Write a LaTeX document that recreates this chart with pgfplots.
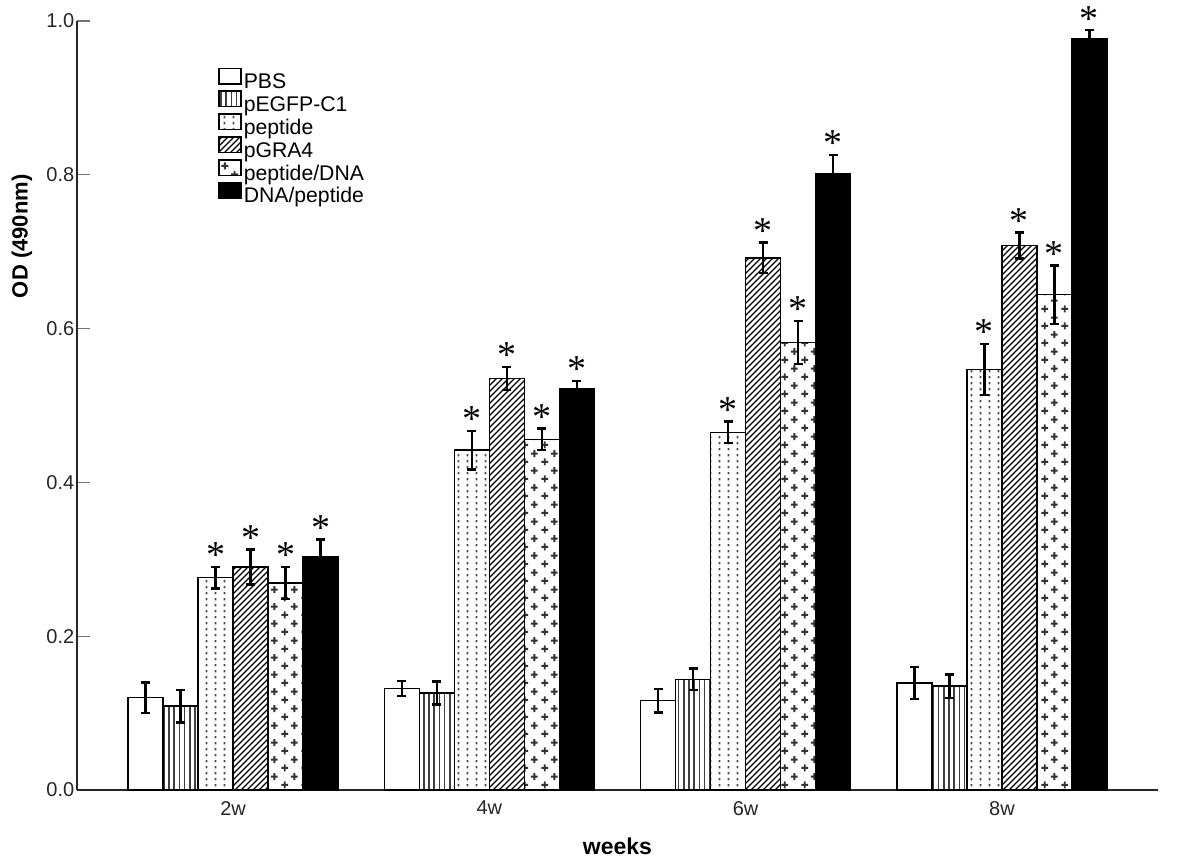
\documentclass[border=0pt]{standalone}
\usepackage{fontspec}
\setmainfont{Liberation Sans}
\newfontfamily\starfont{Liberation Serif}
\usepackage{pgfplots}
\pgfplotsset{compat=1.18}
\usepackage{pgfplotstable}
\usetikzlibrary{patterns}

\pgfdeclarepatternformonly{vlin}{\pgfqpoint{-1pt}{-1pt}}{\pgfqpoint{3.6pt}{3.6pt}}{\pgfqpoint{2.6pt}{2.6pt}}{%
 \pgfsetlinewidth{0.75pt}\pgfpathmoveto{\pgfqpoint{1.3pt}{-1pt}}\pgfpathlineto{\pgfqpoint{1.3pt}{3.6pt}}\pgfusepath{stroke}}
\pgfdeclarepatternformonly{dotcol}{\pgfqpoint{0pt}{0pt}}{\pgfqpoint{4.6pt}{2.9pt}}{\pgfqpoint{4.6pt}{2.9pt}}{%
 \pgfpathrectangle{\pgfqpoint{2pt}{0.8pt}}{\pgfqpoint{0.9pt}{1.2pt}}\pgfusepath{fill}}
\pgfdeclarepatternformonly{diag}{\pgfqpoint{-1pt}{-1pt}}{\pgfqpoint{4pt}{4pt}}{\pgfqpoint{3pt}{3pt}}{%
 \pgfsetlinewidth{0.65pt}\pgfpathmoveto{\pgfqpoint{0pt}{0pt}}\pgfpathlineto{\pgfqpoint{3.1pt}{3.1pt}}\pgfusepath{stroke}}
\pgfdeclarepatternformonly{plusp}{\pgfqpoint{0pt}{0pt}}{\pgfqpoint{10pt}{8.6pt}}{\pgfqpoint{10pt}{8.6pt}}{%
 \pgfsetlinewidth{1pt}%
 \pgfpathmoveto{\pgfqpoint{0.7pt}{2.15pt}}\pgfpathlineto{\pgfqpoint{4.3pt}{2.15pt}}%
 \pgfpathmoveto{\pgfqpoint{2.5pt}{0.35pt}}\pgfpathlineto{\pgfqpoint{2.5pt}{3.95pt}}%
 \pgfpathmoveto{\pgfqpoint{5.7pt}{6.45pt}}\pgfpathlineto{\pgfqpoint{9.3pt}{6.45pt}}%
 \pgfpathmoveto{\pgfqpoint{7.5pt}{4.65pt}}\pgfpathlineto{\pgfqpoint{7.5pt}{8.25pt}}%
 \pgfusepath{stroke}}

\pgfplotstableread{
x pbs pbse egfp egfpe pep pepe gra grae pd pde dp dpe
0 0.120 0.020 0.109 0.021 0.276 0.014 0.290 0.023 0.269 0.021 0.303 0.023
1 0.132 0.010 0.126 0.015 0.442 0.025 0.535 0.015 0.456 0.014 0.522 0.010
2 0.116 0.015 0.144 0.014 0.465 0.014 0.692 0.020 0.582 0.028 0.802 0.024
3 0.139 0.021 0.135 0.015 0.547 0.033 0.708 0.017 0.644 0.038 0.977 0.011
}\datatable

\pgfplotsset{starnodes/.style={
  visualization depends on={\thisrow{#1}\as\myerr},
  nodes near coords={\starfont\fontsize{19}{19}\selectfont *},
  every node near coord/.append style={shift={(axis direction cs:0,\myerr)}, anchor=south, inner sep=0pt, yshift=-0.8pt, text=black}}}

\begin{document}
\begin{tikzpicture}
\useasboundingbox (0,0) rectangle (600pt,428.5pt);
\begin{axis}[
  at={(38.5pt,33.5pt)}, anchor=south west,
  scale only axis, width=540.5pt, height=384.5pt,
  ybar=0pt, bar width=17.5pt,
  xmin=-0.609, xmax=3.609, ymin=0, ymax=1.0,
  axis x line*=bottom, axis y line*=left,
  axis line style={-, line width=1pt, black!85},
  xtick={0,1,2,3}, xticklabels={2w,4w,6w,8w},
  xtick style={draw=none}, xtick pos=bottom,
  ytick={0,0.2,0.4,0.6,0.8,1.0}, ytick pos=left,
  tick align=inside, major tick length=6.5pt,
  ytick style={draw=black!55, line width=0.6pt},
  /pgf/number format/assume math mode=true,
  yticklabel style={/pgf/number format/fixed, /pgf/number format/fixed zerofill, /pgf/number format/precision=1, inner sep=2pt, xshift=0.8pt},
  xticklabel style={yshift=-2pt},
  ticklabel style={font=\fontsize{10}{12}\selectfont, text=black!85},
  xlabel={\textbf{weeks}},
  xlabel style={at={(axis description cs:0.5,-0.0728)}, anchor=center, font=\fontsize{11.5}{13}\selectfont},
  ylabel={\textbf{OD (490nm)}},
  ylabel style={at={(axis description cs:-0.0509,0.72)}, anchor=center, rotate=0, font=\fontsize{11}{13}\selectfont},
  error bars/error bar style={line width=1.2pt, black},
  error bars/error mark options={rotate=90, mark size=2.3pt, line width=1.2pt, black},
  legend image code/.code={\draw[#1, line width=0.7pt] (0pt,-0.5pt) rectangle (11pt,7.3pt);},
  legend cell align=left,
  legend style={at={(0.1304,0.9400)}, anchor=north west, draw=none, fill=none, inner sep=0pt, row sep=-2pt,
    font=\fontsize{10.6}{12}\selectfont, nodes={inner sep=1pt, text height=7.6pt, text depth=2pt}},
  clip=false,
]
\addplot[draw=black, fill=white, line width=0.7pt,
  error bars/.cd, y dir=both, y explicit]
  table[x=x, y=pbs, y error=pbse]{\datatable};
\addplot[draw=black, pattern=vlin, pattern color=black!75, line width=0.7pt,
  error bars/.cd, y dir=both, y explicit]
  table[x=x, y=egfp, y error=egfpe]{\datatable};
\addplot[draw=black, pattern=dotcol, pattern color=black!70, line width=0.7pt,
  starnodes=pepe,
  error bars/.cd, y dir=both, y explicit]
  table[x=x, y=pep, y error=pepe]{\datatable};
\addplot[draw=black, pattern=diag, pattern color=black, line width=0.7pt,
  starnodes=grae,
  error bars/.cd, y dir=both, y explicit]
  table[x=x, y=gra, y error=grae]{\datatable};
\addplot[draw=black, pattern=plusp, pattern color=black!80, line width=0.7pt,
  starnodes=pde,
  error bars/.cd, y dir=both, y explicit]
  table[x=x, y=pd, y error=pde]{\datatable};
\addplot[draw=black, fill=black, line width=0.7pt,
  starnodes=dpe,
  error bars/.cd, y dir=both, y explicit]
  table[x=x, y=dp, y error=dpe]{\datatable};
\legend{PBS, pEGFP-C1, peptide, pGRA4, peptide/DNA, DNA/peptide}
\end{axis}
\end{tikzpicture}
\end{document}
